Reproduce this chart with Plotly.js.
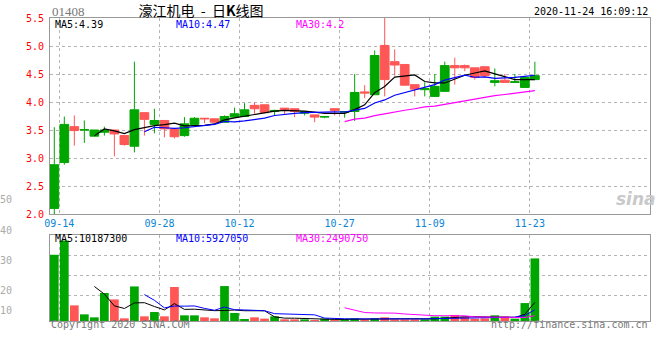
<!DOCTYPE html>
<html>
<head>
<meta charset="utf-8">
<script src="https://cdn.plot.ly/plotly-3.0.1.min.js"></script>
<style>html,body{margin:0;padding:0;background:#fff;}#chart{width:660px;height:360px;}</style>
</head>
<body>
<div id="chart"></div>
<script>
// ---- data ----
const dates = [
  '2020-09-14','2020-09-15','2020-09-16','2020-09-17','2020-09-18',
  '2020-09-21','2020-09-22','2020-09-23','2020-09-24','2020-09-25',
  '2020-09-28','2020-09-29','2020-09-30',
  '2020-10-05','2020-10-06','2020-10-07','2020-10-08','2020-10-09',
  '2020-10-12','2020-10-13','2020-10-14','2020-10-15','2020-10-16',
  '2020-10-19','2020-10-20','2020-10-21','2020-10-22','2020-10-23',
  '2020-10-27','2020-10-28','2020-10-29','2020-10-30',
  '2020-11-02','2020-11-03','2020-11-04','2020-11-05','2020-11-06',
  '2020-11-09','2020-11-10','2020-11-11','2020-11-12','2020-11-13',
  '2020-11-16','2020-11-17','2020-11-18','2020-11-19','2020-11-20',
  '2020-11-23','2020-11-24'
];
const openP  = [2.10,2.92,3.56,3.50,3.39,3.46,3.50,3.40,3.21,3.81,3.60,3.67,3.52,3.40,3.60,3.71,3.70,3.64,3.73,3.74,3.94,3.95,3.83,3.89,3.88,3.80,3.77,3.73,3.88,3.82,3.83,4.18,4.13,5.01,4.72,4.67,4.31,4.22,4.10,4.19,4.65,4.65,4.61,4.63,4.35,4.39,4.35,4.26,4.40];
const highP  = [3.55,3.74,3.76,3.67,3.50,3.56,3.50,3.40,4.72,3.81,3.88,3.67,3.52,3.73,3.73,3.71,3.70,3.76,3.90,3.98,3.99,3.95,3.86,3.89,3.88,3.83,3.77,3.75,3.88,3.84,4.50,4.30,4.92,5.50,4.94,4.67,4.31,4.35,4.50,4.72,4.79,4.67,4.61,4.63,4.60,4.50,4.50,4.44,4.72];
const lowP   = [2.00,2.88,3.22,3.27,3.39,3.40,3.03,3.22,3.10,3.40,3.44,3.37,3.35,3.38,3.60,3.62,3.63,3.64,3.72,3.74,3.79,3.80,3.76,3.77,3.73,3.76,3.64,3.71,3.76,3.72,3.66,4.07,4.13,4.10,4.47,4.30,4.10,4.10,4.10,4.19,4.31,4.55,4.40,4.43,4.28,4.35,4.34,4.26,4.40];
const closeP = [2.88,3.60,3.49,3.505,3.50,3.50,3.43,3.24,3.86,3.69,3.67,3.52,3.38,3.61,3.71,3.70,3.64,3.74,3.79,3.86,3.88,3.81,3.85,3.86,3.83,3.83,3.73,3.74,3.85,3.83,4.17,4.16,4.83,4.40,4.66,4.30,4.23,4.24,4.28,4.65,4.61,4.61,4.44,4.47,4.38,4.35,4.36,4.44,4.47];
const volume = [36200000,44000000,8550000,3640000,2000000,15300000,11800000,1460000,18900000,2550000,
  4900000,2550000,18600000,3100000,3100000,2000000,1460000,19100000,4400000,1100000,
  2000000,1300000,2550000,900000,900000,900000,550000,1300000,700000,1100000,
  1460000,900000,1460000,2000000,900000,900000,900000,900000,2400000,2400000,
  3300000,2400000,1300000,1460000,3100000,2550000,1300000,9800000,34200000];
const tickLabels = ['09-14','09-28','10-12','10-27','11-09','11-23'];
const priceMALabels = ['MA5:4.39','MA10:4.47','MA30:4.2'];
const volMALabels = ['MA5:10187300','MA10:5927050','MA30:2490750'];
const volSideLabels = ['50','40','30','20','10'];

// ---- derived ----
const idx = dates.map((d,i)=>i);
function ma(arr,n){return arr.map((v,i)=>{if(i<n-1)return null;let s=0;for(let k=i-n+1;k<=i;k++)s+=arr[k];return s/n;});}
const G='#00a600', R='#ff5656';
const volColors = closeP.map((c,i)=> c>=openP[i]?G:R);
const tickVals = tickLabels.map(t=>dates.indexOf('2020-'+t)+0.5);

const mono='DejaVu Sans Mono';
const traces = [
  {type:'candlestick', x:idx, open:openP, high:highP, low:lowP, close:closeP, xaxis:'x', yaxis:'y',
   increasing:{line:{color:G,width:1},fillcolor:G}, decreasing:{line:{color:R,width:1},fillcolor:R},
   whiskerwidth:0, hoverinfo:'skip'},
  {type:'scatter', mode:'lines', x:idx, y:ma(closeP,5), line:{color:'#000',width:1.2}, xaxis:'x', yaxis:'y', hoverinfo:'skip'},
  {type:'scatter', mode:'lines', x:idx, y:ma(closeP,10), line:{color:'#0000ff',width:1.2}, xaxis:'x', yaxis:'y', hoverinfo:'skip'},
  {type:'scatter', mode:'lines', x:idx, y:ma(closeP,30), line:{color:'#ff00ff',width:1.2}, xaxis:'x', yaxis:'y', hoverinfo:'skip'},
  {type:'bar', x:idx, y:volume, marker:{color:volColors,line:{width:0}}, xaxis:'x2', yaxis:'y2', hoverinfo:'skip'},
  {type:'scatter', mode:'lines', x:idx, y:ma(volume,5), line:{color:'#000',width:1}, xaxis:'x2', yaxis:'y2', hoverinfo:'skip'},
  {type:'scatter', mode:'lines', x:idx, y:ma(volume,10), line:{color:'#0000ff',width:1}, xaxis:'x2', yaxis:'y2', hoverinfo:'skip'},
  {type:'scatter', mode:'lines', x:idx, y:ma(volume,30), line:{color:'#ff00ff',width:1}, xaxis:'x2', yaxis:'y2', hoverinfo:'skip'}
];

// paper helpers (plot area: x 50..650, y 18..321)
const px = x => (x-50)/600;
const py = y => (321-y)/303;
const ann = (text,x,y,xa,color,size,family) => ({text:text,x:px(x),y:py(y),xref:'paper',yref:'paper',
  xanchor:xa,yanchor:'middle',showarrow:false,font:{family:family||mono,size:size||10,color:color}});

const annotations = [
  ann('01408',50,12,'left','#777',13,'Liberation Serif'),
  ann('2020-11-24 16:09:12',650,11,'right','#000',10),
  ann(priceMALabels[0],53,24,'left','#000',10),
  ann(priceMALabels[1],174,24,'left','#0000ff',10),
  ann(priceMALabels[2],294,24,'left','#ff00ff',10),
  ann(volMALabels[0],53,238,'left','#000',10),
  ann(volMALabels[1],174,238,'left','#0000ff',10),
  ann(volMALabels[2],294,238,'left','#ff00ff',10),
  ann('Copyright 2020 SINA.COM',49,324,'left','#777',10),
  ann('http://finance.sina.com.cn',650,324,'right','#777',10),
  ann('<i><b>sina</b></i>',636,199,'center','#c9c9c9',17,'DejaVu Sans')
];
[200,230,260,290,310].forEach((y,k)=>annotations.push(ann(volSideLabels[k],14,y,'right','#aaa',10)));

const gridC='#b4b4b4', lineC='#999';
const xCommon = {range:[-0.43,59.5], tickvals:tickVals, ticktext:tickLabels, showgrid:true, gridcolor:gridC, griddash:'dot', gridwidth:1,
  showline:true, mirror:true, linecolor:lineC, linewidth:1, zeroline:false, ticks:'', fixedrange:true};
const layout = {
  width:660, height:360,
  margin:{l:50,r:10,t:18,b:39},
  paper_bgcolor:'#fff', plot_bgcolor:'#fff',
  showlegend:false,
  boxgap:0.13, boxgroupgap:0, bargap:0.13,
  title:{text:'濠江机电&nbsp;&nbsp;-&nbsp;&nbsp;日<b>K</b>线图', x:201/660, xanchor:'center', y:1-11/360, yanchor:'middle', font:{family:'Noto Sans CJK SC', size:14, color:'#000'}},
  xaxis:Object.assign({}, xCommon, {domain:[0,1], anchor:'y', rangeslider:{visible:false}, showticklabels:true,
    tickfont:{family:mono,size:10,color:'#0a84d6'}}),
  yaxis:{domain:[py(214),1], anchor:'x', range:[2,5.5], tick0:2, dtick:0.5, tickformat:'.1f', showgrid:true, gridcolor:gridC, griddash:'dot',
    showline:true, mirror:true, linecolor:lineC, linewidth:1, zeroline:false, ticks:'', ticklabelstandoff:3,
    tickfont:{family:mono,size:10,color:'#ff0000'}, fixedrange:true},
  xaxis2:Object.assign({}, xCommon, {domain:[0,1], anchor:'y2', showticklabels:false}),
  yaxis2:{domain:[0,py(235)], anchor:'x2', range:[0,47000000], tickvals:[14000000,25000000,36000000], showticklabels:false,
    showgrid:true, gridcolor:gridC, griddash:'dot', showline:true, mirror:true, linecolor:lineC, linewidth:1, zeroline:false, ticks:'', fixedrange:true},
  annotations:annotations
};
Plotly.newPlot('chart', traces, layout, {displayModeBar:false, staticPlot:true});
</script>
</body>
</html>
